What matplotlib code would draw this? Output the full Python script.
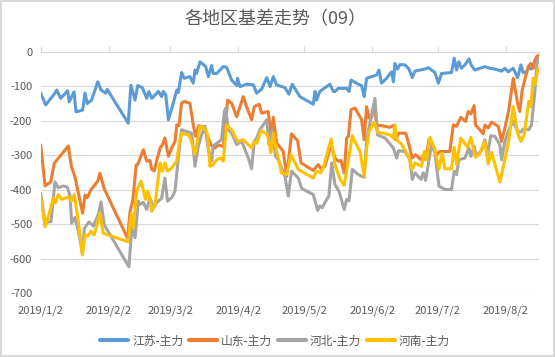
import numpy as np
import pandas as pd
import matplotlib
matplotlib.use('Agg')
import matplotlib.pyplot as plt
import matplotlib.dates as mdates

plt.rcParams['font.family'] = ['Noto Sans CJK SC', 'DejaVu Sans']

# Data: day offset from 2019/1/2, basis value
start = pd.Timestamp('2019-01-02')

js_days = [0, 2.3, 6.5, 7.3, 9.1, 12.3, 13, 15.2, 16.1, 19.1, 20.2, 21.2, 23.2, 26, 27.5, 29.7, 30.3,
           39.9, 41.1, 43, 44.2, 46.3, 48.3, 49.3, 50.6, 52.1, 53.6, 55.1, 55.9, 57, 58.2, 60.4, 62,
           62.7, 64.2, 65.4, 68, 69.5, 70.3, 71, 72.6, 75.2, 76.4, 77.9, 78.6, 80.2, 83.2, 84.7, 87,
           89.3, 89.7, 90.8, 93.8, 96.9, 98.4, 100.7, 103, 104.5, 106, 107.5, 111.3, 113.1, 114.6,
           118.1, 124.2, 125, 125.7, 127.2, 131.8, 133.3, 134.1, 135.6, 139.4, 140.5, 141.4, 144.7,
           146.2, 147.4, 148.5, 150.8, 153.1, 154.1, 155.3, 157.6, 159.9, 160.7, 161.4, 162.6, 163.7,
           166, 167.8, 169.3, 170.5, 175.1, 176.6, 179.6, 181.2, 182.6, 187.2, 188.4, 189.5, 190.5,
           191.7, 193.3, 195.1, 196.3, 197.8, 202.4, 204.7, 206.9, 210, 211.5, 213, 215.3, 217.3,
           218.8, 219.8, 221.4, 222.4, 223.6, 225.2, 226, 226.8]
js_vals = [-120, -154, -120, -111, -135, -113, -145, -116, -174, -169, -120, -150, -140, -87, -111, -120, -109,
           -207, -97, -140, -98, -104, -135, -115, -135, -125, -115, -130, -115, -125, -197, -149, -111,
           -118, -60, -77, -72, -91, -53, -63, -29, -43, -72, -40, -63, -63, -43, -45, -82,
           -98, -77, -101, -94, -96, -120, -108, -75, -101, -72, -96, -104, -123, -94,
           -130, -152, -115, -140, -115, -94, -115, -115, -106, -106, -115, -82, -94,
           -98, -130, -77, -72, -67, -53, -91, -77, -58, -87, -34, -50, -37,
           -38, -50, -75, -56, -50, -46, -60, -91, -63, -60, -19, -53, -29,
           -48, -38, -21, -40, -53, -43, -48, -50, -56, -48, -58, -48, -75,
           -38, -60, -58, -46, -50, -27, -14, -20]

sd_days = [0, 2, 4.6, 6.2, 12.6, 14, 15.6, 19.1, 20.2, 21.2, 22.9, 26, 27, 28.9, 39.6, 40.7, 42, 43.5,
           44.2, 46.8, 48.3, 49.8, 50.6, 51.8, 52.8, 54.4, 55.4, 56.6, 58.2, 59.7, 61.2, 62, 63, 64.2,
           65.4, 68, 69.5, 70.6, 72.1, 74.1, 75.6, 77.6, 79.4, 81, 83.2, 84.3, 85.2, 87, 89.3, 92.3,
           93.8, 96.1, 97.3, 99.5, 100.7, 103.7, 104.9, 106, 107.5, 110.5, 112.1, 114.3, 117.1, 118.6,
           124.2, 126.5, 127.7, 129.5, 132.3, 134.1, 135.6, 136.8, 138.3, 139.4, 140.2, 141.4, 143.2,
           146.2, 147.4, 148.5, 149.6, 150.8, 152, 153.1, 156.9, 159.1, 161.1, 161.7, 163.2, 166.3,
           167.2, 169.3, 170.8, 173.3, 174.8, 175.4, 176.9, 178.9, 180.4, 181.9, 186.4, 188, 189.5,
           191.4, 193.6, 194.8, 196, 197.5, 198.1, 200.1, 201.6, 202.4, 203.9, 205.4, 208.5, 210,
           211.5, 213.3, 215.3, 217.3, 218.3, 219.4, 222.1, 223.3, 224.4, 225.2, 226.7]
sd_vals = [-270, -389, -377, -323, -273, -333, -362, -468, -415, -423, -400, -375, -352, -396, -541, -464, -430, -328,
           -327, -284, -317, -315, -341, -345, -317, -279, -270, -250, -303, -279, -260, -212, -214, -149,
           -144, -149, -212, -245, -214, -218, -236, -270, -279, -270, -275, -202, -140, -149, -188, -130,
           -159, -197, -159, -152, -178, -173, -241, -190, -264, -289, -361, -238, -258, -322,
           -344, -327, -340, -332, -269, -308, -317, -315, -351, -250, -245, -168, -163,
           -197, -255, -159, -192, -190, -154, -212, -216, -219, -212, -255, -236, -236,
           -255, -308, -298, -313, -294, -313, -255, -274, -298, -289, -289, -212, -216,
           -190, -202, -173, -180, -156, -212, -226, -238, -212, -221, -204, -216, -260,
           -221, -168, -77, -149, -173, -111, -43, -34, -48, -24, -10]

hb_days = [0, 2, 4.7, 6.5, 8, 10.3, 12.1, 13.4, 14.1, 15.6, 17.2, 19, 19.9, 22, 24, 26.3, 27.5, 29,
           40.2, 41.5, 43, 44.5, 45.2, 46.8, 48.3, 49.8, 51.3, 52.8, 55.1, 56.6, 57.8, 59.7, 61.2,
           62.7, 64.2, 66.5, 68.8, 70.3, 71.8, 73.3, 74.9, 76.4, 77.9, 78.6, 80.2, 82.4, 83.7, 84.3,
           85.5, 87, 89.3, 91.6, 94.6, 96.1, 97.3, 98.4, 99.9, 103, 104, 105.5, 107, 108.3, 111.3,
           112.8, 114.3, 117.4, 118.9, 124.2, 126.2, 127.2, 128.3, 129.5, 131.3, 132.6, 134.1, 135.9,
           138.3, 139.4, 140.5, 142, 144.7, 147.4, 148.5, 150, 152.3, 153.5, 156.9, 160.7, 162.2,
           163, 166, 168.3, 169.3, 170.5, 173.3, 174.3, 175.4, 178.1, 179.6, 181.5, 184.2, 187.2,
           188.4, 189.5, 190.5, 193.3, 195.1, 196, 197.5, 198.6, 200.9, 202.4, 203.6, 205.1, 206.9,
           209.2, 210, 211.5, 213.3, 215.3, 217.3, 218.8, 219.8, 222.4, 223.6, 225.2, 226, 226.8]
hb_vals = [-410, -495, -492, -377, -394, -389, -392, -418, -497, -480, -520, -584, -512, -493, -505, -471, -435, -502,
           -623, -512, -539, -433, -442, -437, -457, -423, -452, -437, -425, -366, -433, -423, -404,
           -308, -226, -231, -236, -332, -274, -241, -216, -284, -317, -274, -265, -255, -173, -164,
           -226, -236, -269, -260, -308, -339, -260, -250, -226, -197, -269, -226, -303, -313, -361,
           -418, -346, -366, -396, -414, -460, -447, -452, -437, -418, -322, -385, -404,
           -457, -428, -432, -341, -356, -364, -255, -207, -135, -241, -250, -279, -308,
           -287, -289, -313, -370, -351, -370, -351, -373, -267, -294, -390, -399, -399,
           -346, -356, -313, -308, -279, -303, -274, -303, -284, -255, -298, -243, -245,
           -269, -313, -260, -226, -202, -231, -233, -224, -226, -212, -115, -38, -19]

hn_days = [0, 2, 3.8, 5.8, 6.8, 8, 9.6, 12.6, 14.1, 15.3, 16.9, 19, 20.2, 21.4, 22.9, 24.4, 27, 28.5,
           39.9, 41.2, 42.2, 43.7, 45.7, 47.8, 48.7, 49.8, 50.6, 52.1, 54.4, 55.4, 56.6, 57.8, 59.7,
           62, 63, 64.2, 67.3, 68.5, 70.3, 72.6, 74.9, 76.1, 77.1, 78.6, 80.2, 82.1, 83.2, 84.7, 87,
           89.3, 90, 92.3, 96.1, 97.3, 98.4, 100.4, 103, 103.7, 104.9, 106, 107.5, 109.8, 112.1, 114,
           117.4, 124.2, 125.7, 127.7, 129.2, 132.3, 134.1, 136.4, 138.3, 140.2, 142, 143.5, 145.5,
           147.4, 148.5, 149.6, 152, 153.5, 156.1, 159.1, 160.7, 161.4, 162.2, 164.5, 167.5, 169.3,
           170.5, 173.6, 174.8, 175.8, 177.4, 179.6, 181.4, 182.9, 184.2, 187.2, 188.4, 189.5, 191.4,
           194.5, 196, 198.1, 200.1, 202.4, 203.9, 205.4, 209.2, 211.5, 213.3, 215.3, 217.3, 218.8,
           220.3, 222.4, 223.3, 224.4, 225.2, 226.7]
hn_vals = [-420, -507, -471, -423, -438, -414, -428, -421, -433, -414, -480, -589, -531, -534, -520, -531, -468, -526,
           -551, -468, -510, -404, -375, -428, -404, -428, -462, -443, -322, -346, -322, -346, -337,
           -317, -269, -236, -241, -255, -298, -216, -223, -241, -332, -327, -313, -308, -317, -212, -226,
           -255, -260, -255, -279, -260, -265, -229, -238, -250, -293, -236, -289, -351, -356, -298,
           -341, -366, -346, -351, -327, -253, -327, -370, -387, -313, -243, -265, -289,
           -361, -279, -231, -204, -233, -236, -241, -250, -212, -255, -269, -303, -341,
           -322, -332, -289, -313, -248, -284, -341, -294, -339, -339, -277, -327, -250,
           -277, -248, -306, -294, -260, -325, -291, -377, -313, -255, -159, -236, -260,
           -241, -144, -159, -77, -96, -48]

series = [('江苏-主力', js_days, js_vals, '#5B9BD5'),
          ('山东-主力', sd_days, sd_vals, '#ED7D31'),
          ('河北-主力', hb_days, hb_vals, '#A5A5A5'),
          ('河南-主力', hn_days, hn_vals, '#FFC000')]

tick_dates = ['2019-01-02', '2019-02-02', '2019-03-02', '2019-04-02',
              '2019-05-02', '2019-06-02', '2019-07-02', '2019-08-02']
tick_labels = ['2019/1/2', '2019/2/2', '2019/3/2', '2019/4/2',
               '2019/5/2', '2019/6/2', '2019/7/2', '2019/8/2']
y_ticks = [0, -100, -200, -300, -400, -500, -600, -700]

fig = plt.figure(figsize=(5.55, 3.57), dpi=100)
fig.patch.set_edgecolor('#D9D9D9')
fig.patch.set_linewidth(1.5)
ax = fig.add_axes([0.0733, 0.1784, 0.8973, 0.6766])

x0 = mdates.date2num(start)
for name, days, vals, color in series:
    ax.plot(x0 + np.array(days), vals, color=color, lw=2.2, label=name,
            solid_joinstyle='round', solid_capstyle='round')

ax.set_ylim(-700, 0)
ax.set_xlim(x0, x0 + 226.9)
ax.set_yticks(y_ticks)
ax.set_yticklabels([str(v) for v in y_ticks])
ax.set_xticks([mdates.date2num(pd.Timestamp(d)) for d in tick_dates])
ax.set_xticklabels(tick_labels)

ax.grid(axis='y', color='#D9D9D9', lw=0.8)
ax.set_axisbelow(True)
for s in ['left', 'right', 'bottom']:
    ax.spines[s].set_visible(False)
ax.spines['top'].set_color('#D9D9D9')
ax.spines['top'].set_linewidth(0.8)

ax.tick_params(axis='y', length=0, pad=6, labelsize=8, labelcolor='#595959')
ax.tick_params(axis='x', bottom=False, top=True, labelbottom=True, labeltop=False,
               direction='out', length=4, color='#D9D9D9', width=0.8,
               labelsize=8, labelcolor='#595959', pad=5)

fig.text(0.497, 1 - 19 / 357, '各地区基差走势（09）', ha='center', va='center',
         fontsize=13, color='#595959')

leg = fig.legend(loc='center', bbox_to_anchor=(275 / 555, 1 - 341 / 357), ncol=4,
                 frameon=False, fontsize=8.5, handlelength=2.4, handletextpad=0.3,
                 columnspacing=0.5, borderaxespad=0)
for line in leg.get_lines():
    line.set_linewidth(3)
for t in leg.get_texts():
    t.set_color('#595959')

fig.savefig('out.png', dpi=100)
